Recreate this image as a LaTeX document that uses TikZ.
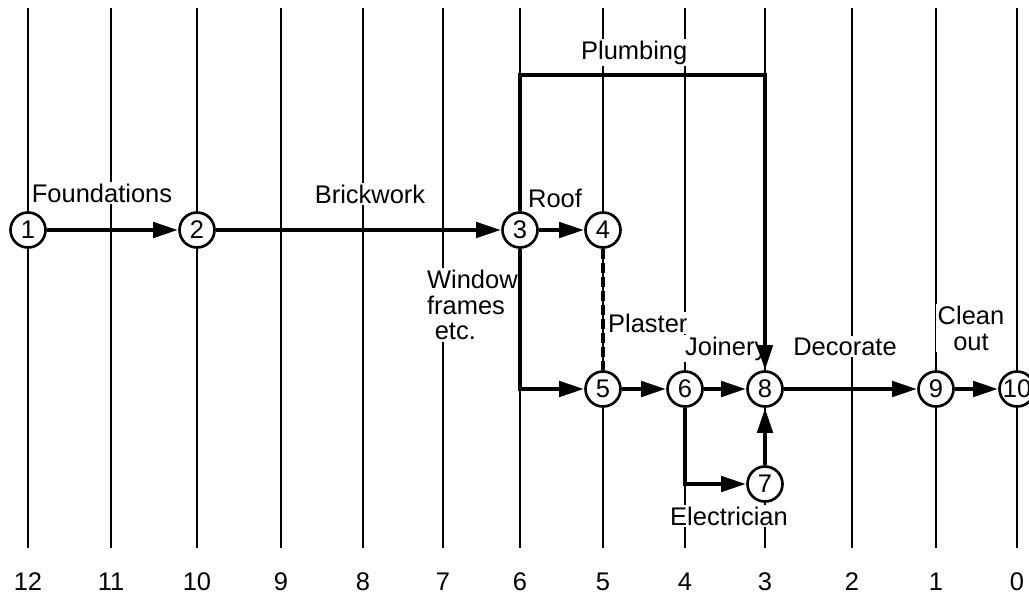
\documentclass[tikz,border=0pt]{standalone}
\usepackage{fontspec}
\setmainfont{Liberation Sans}
\usetikzlibrary{arrows.meta}

\begin{document}
\begin{tikzpicture}[
  x=0.2mm, y=-0.2mm,
  evento/.style={draw, circle, line width=1.5pt, fill=white, minimum size=7mm, inner sep=0pt, font=\fontsize{14.5}{16}\selectfont},
  rotulo/.style={fill=white, inner sep=1pt, font=\fontsize{14.5}{14.5}\selectfont},
  semana/.style={line width=1.1pt},
  numsemana/.style={anchor=base, inner sep=1pt, font=\fontsize{14.5}{16}\selectfont},
  seta/.style={-{Triangle[length=5mm, width=3mm]}, line width=2.6pt},
  fantasma/.style={line width=2.6pt, dash pattern=on 2mm off 0.8mm}
]
\useasboundingbox (0,0) rectangle (1029,601);

% time scale, weeks to completion
\foreach \x/\w in {28/12, 111/11, 197/10, 281/9, 363/8, 443/7, 520/6, 603/5, 685/4, 765/3, 852/2, 936/1, 1017/0}{
  \draw[semana] (\x,8) -- (\x,548);
  \node[numsemana] (w\w) at (\x,590) {\w};
}

% activity labels
\node[rotulo, anchor=base] (lfound) at (102,202) {Foundations};
\node[rotulo, anchor=base] (lbrick) at (370,203) {Brickwork};
\node[rotulo, anchor=base west] (lroof) at (526,207) {Roof};
\node[rotulo, anchor=base west] (lplumb) at (579,59) {Plumbing};
\node[rotulo, anchor=north west, align=left] (lwin) at (425,268) {Window\\frames\\\hspace{0.3em}etc.};
\node[rotulo, anchor=base west] (lplast) at (606,332) {Plaster};
\node[rotulo, anchor=base west] (ljoin) at (683,355) {Joinery};
\node[rotulo, anchor=base] (ldeco) at (845,355) {Decorate};
\node[rotulo, anchor=north, align=center] (lclean) at (971,304) {Clean\\out};
\node[rotulo, anchor=base] (lelec) at (729,525) {Electrician};

% events
\node[evento] (n1) at (28,230) {1};
\node[evento] (n2) at (197,230) {2};
\node[evento] (n3) at (520,230) {3};
\node[evento] (n4) at (603,230) {4};
\node[evento] (n5) at (603,389) {5};
\node[evento] (n6) at (685,389) {6};
\node[evento] (n7) at (765,484) {7};
\node[evento] (n8) at (765,389) {8};
\node[evento] (n9) at (936,389) {9};
\node[evento] (n10) at (1017,389) {10};
\coordinate (ptop) at (520,75);

% activities
\draw[seta] (n1) -- (n2);
\draw[seta] (n2) -- (n3);
\draw[seta] (n3) -- (n4);
\draw[seta] (n3) -- (ptop) -| (n8);
\draw[seta] (n3) |- (n5);
\draw[fantasma] (n4) -- (n5);
\draw[seta] (n5) -- (n6);
\draw[seta] (n6) -- (n8);
\draw[seta] (n6) |- (n7);
\draw[seta] (n7) -- (n8);
\draw[seta] (n8) -- (n9);
\draw[seta] (n9) -- (n10);
\end{tikzpicture}
\end{document}
